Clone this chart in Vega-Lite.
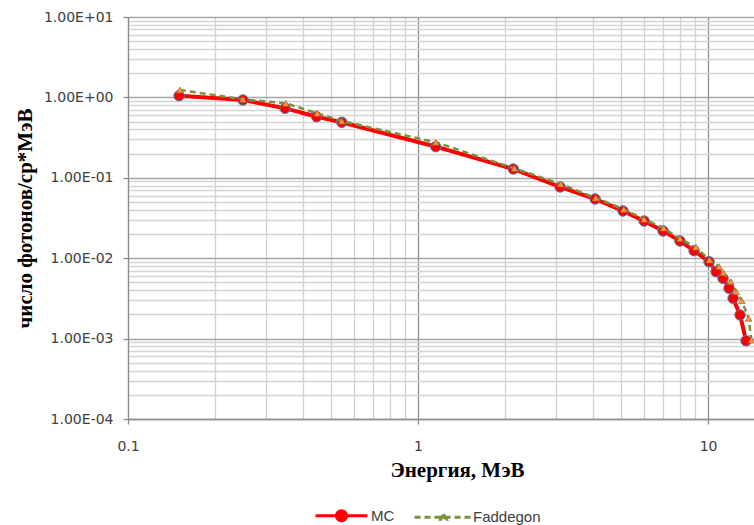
{
  "$schema": "https://vega.github.io/schema/vega-lite/v6.json",
  "width": 626,
  "height": 402,
  "autosize": {"type": "none"},
  "padding": {"left": 128, "top": 17, "right": 0, "bottom": 106},
  "background": "white",
  "config": {"view": {"stroke": null}},
  "data": {
    "values": [
      {"E": 0.150, "N": 1.05, "s": "MC"},
      {"E": 0.249, "N": 0.929, "s": "MC"},
      {"E": 0.348, "N": 0.732, "s": "MC"},
      {"E": 0.447, "N": 0.575, "s": "MC"},
      {"E": 0.546, "N": 0.490, "s": "MC"},
      {"E": 1.151, "N": 0.244, "s": "MC"},
      {"E": 2.13, "N": 0.1287, "s": "MC"},
      {"E": 3.09, "N": 0.0769, "s": "MC"},
      {"E": 4.08, "N": 0.0545, "s": "MC"},
      {"E": 5.09, "N": 0.0387, "s": "MC"},
      {"E": 6.02, "N": 0.0290, "s": "MC"},
      {"E": 7.0, "N": 0.0218, "s": "MC"},
      {"E": 8.0, "N": 0.01637, "s": "MC"},
      {"E": 8.95, "N": 0.0124, "s": "MC"},
      {"E": 10.08, "N": 0.00904, "s": "MC"},
      {"E": 10.66, "N": 0.00679, "s": "MC"},
      {"E": 11.26, "N": 0.00562, "s": "MC"},
      {"E": 11.81, "N": 0.00422, "s": "MC"},
      {"E": 12.2, "N": 0.00317, "s": "MC"},
      {"E": 12.89, "N": 0.00197, "s": "MC"},
      {"E": 13.52, "N": 0.00094, "s": "MC"},
      {"E": 0.151, "N": 1.236, "s": "Faddegon"},
      {"E": 0.249, "N": 0.947, "s": "Faddegon"},
      {"E": 0.350, "N": 0.845, "s": "Faddegon"},
      {"E": 0.449, "N": 0.634, "s": "Faddegon"},
      {"E": 0.546, "N": 0.509, "s": "Faddegon"},
      {"E": 1.151, "N": 0.276, "s": "Faddegon"},
      {"E": 2.15, "N": 0.131, "s": "Faddegon"},
      {"E": 3.10, "N": 0.0838, "s": "Faddegon"},
      {"E": 4.10, "N": 0.0561, "s": "Faddegon"},
      {"E": 5.12, "N": 0.0406, "s": "Faddegon"},
      {"E": 6.02, "N": 0.0305, "s": "Faddegon"},
      {"E": 7.03, "N": 0.0236, "s": "Faddegon"},
      {"E": 8.0, "N": 0.0175, "s": "Faddegon"},
      {"E": 9.08, "N": 0.0137, "s": "Faddegon"},
      {"E": 10.11, "N": 0.0095, "s": "Faddegon"},
      {"E": 10.92, "N": 0.00784, "s": "Faddegon"},
      {"E": 11.3, "N": 0.0066, "s": "Faddegon"},
      {"E": 11.97, "N": 0.00511, "s": "Faddegon"},
      {"E": 12.5, "N": 0.00383, "s": "Faddegon"},
      {"E": 13.07, "N": 0.00296, "s": "Faddegon"},
      {"E": 13.8, "N": 0.00179, "s": "Faddegon"},
      {"E": 14.1, "N": 0.00096, "s": "Faddegon"}
    ]
  },
  "encoding": {
    "x": {
      "field": "E",
      "type": "quantitative",
      "scale": {"type": "log", "domain": [0.1, 14.4], "nice": false},
      "axis": {
        "title": "Энергия, МэВ",
        "values": [0.1, 0.2, 0.3, 0.4, 0.5, 0.6, 0.7, 0.8, 0.9, 1, 2, 3, 4, 5, 6, 7, 8, 9, 10],
        "labelExpr": "datum.value == 0.1 ? '0.1' : datum.value == 1 ? '1' : datum.value == 10 ? '10' : ''",
        "labelOverlap": false,
        "labelFlush": false,
        "grid": true,
        "gridColor": {"condition": {"test": "datum.value == 1 || datum.value == 10", "value": "#8c8c8c"}, "value": "#d0d0d0"},
        "gridWidth": 1.3,
        "tickColor": {"condition": {"test": "datum.value == 0.1 || datum.value == 1 || datum.value == 10", "value": "#8c8c8c"}, "value": "transparent"},
        "tickSize": 5,
        "tickWidth": 1.3,
        "domainColor": "#8c8c8c",
        "domainWidth": 1.3,
        "labelFont": "DejaVu Sans",
        "labelFontSize": 14,
        "labelColor": "#404040",
        "labelPadding": 15,
        "titleFont": "Liberation Serif",
        "titleFontSize": 21,
        "titleFontWeight": "bold",
        "titleColor": "#000000",
        "titleX": 329,
        "titleY": 51,
        "titleBaseline": "middle",
        "titleAlign": "center"
      }
    },
    "y": {
      "field": "N",
      "type": "quantitative",
      "scale": {"type": "log", "domain": [0.0001, 10], "nice": false},
      "axis": {
        "title": "число фотонов/ср*МэВ",
        "values": [0.0001, 0.0002, 0.0003, 0.0004, 0.0005, 0.0006, 0.0007, 0.0008, 0.0009,
                   0.001, 0.002, 0.003, 0.004, 0.005, 0.006, 0.007, 0.008, 0.009,
                   0.01, 0.02, 0.03, 0.04, 0.05, 0.06, 0.07, 0.08, 0.09,
                   0.1, 0.2, 0.3, 0.4, 0.5, 0.6, 0.7, 0.8, 0.9,
                   1, 2, 3, 4, 5, 6, 7, 8, 9, 10],
        "labelExpr": "abs(log(datum.value)/LN10 - round(log(datum.value)/LN10)) < 1e-6 ? '1.00E' + (round(log(datum.value)/LN10) >= 0 ? '+0' : '-0') + abs(round(log(datum.value)/LN10)) : ''",
        "labelOverlap": false,
        "labelFlush": false,
        "grid": true,
        "gridColor": {"condition": {"test": "abs(log(datum.value)/LN10 - round(log(datum.value)/LN10)) < 1e-6", "value": "#a6a6a6"}, "value": "#d4d4d4"},
        "gridWidth": 1.3,
        "tickColor": {"condition": {"test": "abs(log(datum.value)/LN10 - round(log(datum.value)/LN10)) < 1e-6", "value": "#8c8c8c"}, "value": "transparent"},
        "tickSize": 5,
        "tickWidth": 1.3,
        "domainColor": "#8c8c8c",
        "domainWidth": 1.3,
        "labelFont": "DejaVu Sans",
        "labelFontSize": 14,
        "labelColor": "#404040",
        "labelPadding": 10,
        "titleFont": "Liberation Serif",
        "titleFontSize": 21,
        "titleFontWeight": "bold",
        "titleColor": "#000000",
        "titleX": -103,
        "titleY": 201,
        "titleAngle": 270,
        "titleBaseline": "middle",
        "titleAlign": "center"
      }
    }
  },
  "layer": [
    {
      "transform": [{"filter": "datum.s == 'MC'"}],
      "mark": {"type": "line", "strokeWidth": 4},
      "encoding": {
        "stroke": {"field": "s", "type": "nominal", "sort": null,
          "scale": {"domain": ["MC", "Faddegon"], "range": ["#FF0000", "#77933C"]},
          "legend": {"title": null, "orient": "none", "direction": "horizontal", "legendX": 206, "legendY": 491, "symbolSize": 100, "symbolStrokeWidth": 3, "labelFont": "Liberation Sans", "labelFontSize": 15, "labelColor": "#404040", "labelOffset": 22, "columnPadding": 13}},
        "strokeDash": {"field": "s", "type": "nominal", "sort": null,
          "scale": {"domain": ["MC", "Faddegon"], "range": [[1, 0], [6, 4]]},
          "legend": {"title": null, "orient": "none", "direction": "horizontal", "legendX": 206, "legendY": 491, "symbolSize": 100, "symbolStrokeWidth": 3, "labelFont": "Liberation Sans", "labelFontSize": 15, "labelColor": "#404040", "labelOffset": 22, "columnPadding": 13}}
      }
    },
    {
      "transform": [{"filter": "datum.s == 'MC'"}],
      "mark": {"type": "point", "shape": "circle", "filled": true, "size": 110, "fill": "#FF0000", "stroke": "#4A7EBB", "strokeWidth": 1, "opacity": 1}
    },
    {
      "transform": [{"filter": "datum.s == 'Faddegon'"}],
      "mark": {"type": "line", "strokeWidth": 2.5},
      "encoding": {
        "stroke": {"field": "s", "type": "nominal", "sort": null,
          "scale": {"domain": ["MC", "Faddegon"], "range": ["#FF0000", "#77933C"]},
          "legend": {"title": null, "orient": "none", "direction": "horizontal", "legendX": 206, "legendY": 491, "symbolSize": 100, "symbolStrokeWidth": 3, "labelFont": "Liberation Sans", "labelFontSize": 15, "labelColor": "#404040", "labelOffset": 22, "columnPadding": 13}},
        "strokeDash": {"field": "s", "type": "nominal", "sort": null,
          "scale": {"domain": ["MC", "Faddegon"], "range": [[1, 0], [6, 4]]},
          "legend": {"title": null, "orient": "none", "direction": "horizontal", "legendX": 206, "legendY": 491, "symbolSize": 100, "symbolStrokeWidth": 3, "labelFont": "Liberation Sans", "labelFontSize": 15, "labelColor": "#404040", "labelOffset": 22, "columnPadding": 13}}
      }
    },
    {
      "transform": [{"filter": "datum.s == 'Faddegon'"}],
      "mark": {"type": "point", "shape": "triangle-up", "filled": true, "size": 45, "fill": "#F79646", "stroke": "#B0601E", "strokeWidth": 0.7, "opacity": 1}
    },
    {
      "transform": [{"filter": "datum.E < 0"}],
      "mark": {"type": "point", "opacity": 1},
      "encoding": {
        "shape": {"field": "s", "type": "nominal", "sort": null,
          "scale": {"domain": ["MC", "Faddegon"], "range": ["M-5.2,0H5.2M1,0A1,1,0,1,1,-1,0A1,1,0,1,1,1,0", "M-5.8,0H5.8M0,-0.6L0.55,0.4L-0.55,0.4Z"]},
          "legend": {"title": null, "orient": "none", "direction": "horizontal", "legendX": 206, "legendY": 491, "symbolSize": 100, "symbolStrokeWidth": 3, "labelFont": "Liberation Sans", "labelFontSize": 15, "labelColor": "#404040", "labelOffset": 22, "columnPadding": 13}},
        "fill": {"field": "s", "type": "nominal", "sort": null,
          "scale": {"domain": ["MC", "Faddegon"], "range": ["#FF0000", "#F79646"]},
          "legend": {"title": null, "orient": "none", "direction": "horizontal", "legendX": 206, "legendY": 491, "symbolSize": 100, "symbolStrokeWidth": 3, "labelFont": "Liberation Sans", "labelFontSize": 15, "labelColor": "#404040", "labelOffset": 22, "columnPadding": 13}},
        "stroke": {"field": "s", "type": "nominal", "sort": null,
          "scale": {"domain": ["MC", "Faddegon"], "range": ["#FF0000", "#77933C"]},
          "legend": {"title": null, "orient": "none", "direction": "horizontal", "legendX": 206, "legendY": 491, "symbolSize": 100, "symbolStrokeWidth": 3, "labelFont": "Liberation Sans", "labelFontSize": 15, "labelColor": "#404040", "labelOffset": 22, "columnPadding": 13}},
        "strokeDash": {"field": "s", "type": "nominal", "sort": null,
          "scale": {"domain": ["MC", "Faddegon"], "range": [[1, 0], [6, 4]]},
          "legend": {"title": null, "orient": "none", "direction": "horizontal", "legendX": 206, "legendY": 491, "symbolSize": 100, "symbolStrokeWidth": 3, "labelFont": "Liberation Sans", "labelFontSize": 15, "labelColor": "#404040", "labelOffset": 22, "columnPadding": 13}}
      }
    }
  ]
}
